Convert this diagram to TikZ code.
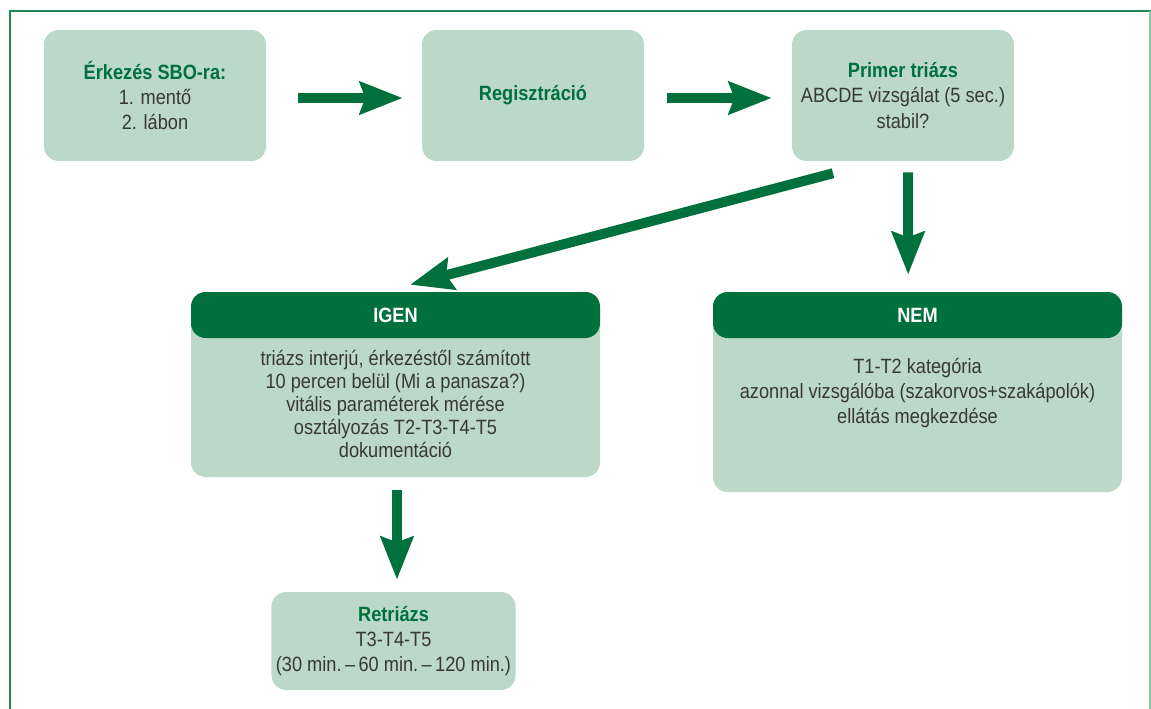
\documentclass[tikz,border=0pt]{standalone}
\usepackage{fontspec}
\setmainfont{Liberation Sans}[FakeStretch=0.88]
\usepackage{xcolor}
\usepackage{tikz}
\definecolor{sboGreen}{HTML}{00703C}
\definecolor{sboLight}{HTML}{BBD8C9}
\definecolor{sboFrame}{HTML}{1F8555}
\definecolor{sboFrameLight}{HTML}{86C6A6}
\definecolor{sboText}{HTML}{383838}
\usetikzlibrary{arrows.meta}

\tikzset{
  stepbox/.style={rounded corners=11pt, fill=sboLight, draw=none, align=center,
    text=sboText, font=\fontsize{15.5}{19}\selectfont},
  headbar/.style={rounded corners=11pt, fill=sboGreen, draw=none, text=white,
    font=\fontsize{15.5}{18}\selectfont\bfseries},
  bodytext/.style={align=center, text=sboText, font=\fontsize{15.5}{17.4}\selectfont},
  flow/.style={line width=7.5pt, color=sboGreen, -{Stealth[length=32pt,width=24pt,inset=4pt]}}
}
\newcommand{\ttl}[1]{{\bfseries\color{sboGreen}#1}}

\begin{document}
\begin{tikzpicture}[x=0.75pt,y=-0.75pt]
  \useasboundingbox (0,0) rectangle (1151,709);
  % frame
  \draw[sboFrame, line width=1.5pt] (10,709) -- (10,11) -- (1151,11);
  \draw[sboFrameLight, line width=1.5pt] (1150,11) -- (1150,709);

  % top row
  \node[stepbox, minimum width=166.5pt, minimum height=98.25pt] (arrive) at (155,95.5)
    {\ttl{Érkezés SBO-ra:}\\1. mentő\\2. lábon};
  \node[stepbox, minimum width=166.5pt, minimum height=98.25pt] (regist) at (533,95.5)
    {\ttl{Regisztráció}};
  \node[stepbox, minimum width=166.5pt, minimum height=98.25pt] (primer) at (903,95.5)
    {\ttl{Primer triázs}\\ABCDE vizsgálat (5 sec.)\\stabil?};

  % IGEN branch
  \node[stepbox, minimum width=306.75pt, minimum height=138.75pt] (igen) at (395.5,384.5) {};
  \node[headbar, minimum width=306.75pt, minimum height=34.5pt] (igenhead) at (395.5,315) {IGEN};
  \node[bodytext] (igentext) at (395.5,404)
    {triázs interjú, érkezéstől számított\\10 percen belül (Mi a panasza?)\\vitális paraméterek mérése\\osztályozás T2-T3-T4-T5\\dokumentáció};

  % NEM branch
  \node[stepbox, minimum width=306.75pt, minimum height=150pt] (nem) at (917.5,392) {};
  \node[headbar, minimum width=306.75pt, minimum height=34.5pt] (nemhead) at (917.5,315) {NEM};
  \node[bodytext, font=\fontsize{15.5}{19}\selectfont] (nemtext) at (917.5,393)
    {T1-T2 kategória\\azonnal vizsgálóba (szakorvos+szakápolók)\\ellátás megkezdése};

  \node[stepbox, minimum width=182.25pt, minimum height=73.5pt] (retri) at (393.5,641)
    {\ttl{Retriázs}\\T3-T4-T5\\(30 min.\,–\,60 min.\,–\,120 min.)};

  % arrows
  \draw[flow] ([xshift=24pt,yshift=-1.9pt]arrive.east) -- ([xshift=-14.25pt,yshift=-1.9pt]regist.west);
  \draw[flow] ([xshift=17.25pt,yshift=-1.9pt]regist.east) -- ([xshift=-15pt,yshift=-1.9pt]primer.west);
  \draw[flow] ([xshift=-52.5pt,yshift=-9pt]primer.south) -- ([xshift=10.9pt,yshift=5.25pt]igenhead.north);
  \draw[flow] ([xshift=3.75pt,yshift=-8.25pt]primer.south) -- ([xshift=-7pt,yshift=12.75pt]nemhead.north);
  \draw[flow] ([xshift=1.1pt,yshift=-9.75pt]igen.south) -- ([xshift=2.6pt,yshift=9pt]retri.north);
\end{tikzpicture}
\end{document}
